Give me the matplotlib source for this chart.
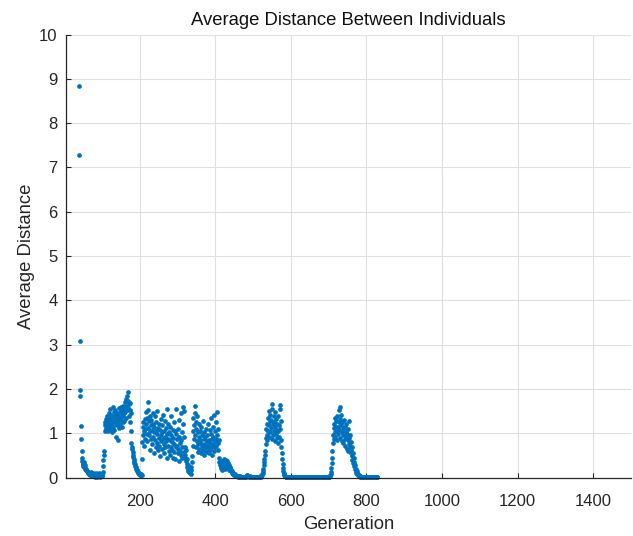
import matplotlib.pyplot as plt

plt.rcParams['font.family'] = ['Liberation Sans', 'DejaVu Sans']

first_generation = 39

# average pairwise distance, one value per generation
avg_distance = [
    8.85, 7.28, 3.08, 1.98, 1.84, 1.16, 0.86, 0.60, 0.45, 0.38, 0.34, 0.31, 0.27, 0.35, 0.24, 0.22, 0.28, 0.19, 0.20, 0.16,
    0.18, 0.14, 0.15, 0.12, 0.10, 0.13, 0.08, 0.11, 0.07, 0.10, 0.06, 0.09, 0.05, 0.12, 0.04, 0.08, 0.06, 0.03, 0.10, 0.05,
    0.07, 0.04, 0.09, 0.02, 0.06, 0.11, 0.03, 0.05, 0.08, 0.02, 0.06, 0.04, 0.10, 0.03, 0.07, 0.05, 0.02, 0.09, 0.04, 0.06,
    0.03, 0.08, 0.05, 0.12, 0.27, 0.39, 0.52, 0.61, 1.05, 1.18, 1.25, 1.12, 1.32, 1.08, 1.22, 1.40, 1.15, 1.28, 1.05, 1.35,
    1.22, 1.45, 1.10, 1.55, 1.30, 1.18, 1.42, 1.02, 1.36, 1.25, 1.60, 1.14, 1.48, 1.31, 1.08, 1.38, 1.52, 1.20, 0.92, 1.33,
    1.45, 1.18, 1.28, 0.85, 1.40, 1.24, 1.56, 1.12, 1.35, 1.48, 1.22, 1.60, 1.30, 1.15, 1.42, 1.52, 1.25, 1.38, 1.62, 1.45,
    1.28, 1.55, 1.70, 1.48, 1.35, 1.62, 1.78, 1.52, 1.85, 1.94, 1.72, 1.58, 1.65, 1.40, 1.52, 1.68, 1.25, 1.45, 1.06, 0.77,
    0.70, 0.64, 0.57, 0.50, 0.46, 0.41, 0.38, 0.34, 0.31, 0.27, 0.25, 0.22, 0.20, 0.18, 0.16, 0.14, 0.13, 0.11, 0.10, 0.09,
    0.08, 0.07, 0.06, 0.09, 0.05, 0.07, 0.06, 0.42, 0.80, 1.14, 0.95, 1.25, 1.05, 0.72, 1.32, 1.10, 0.88, 1.48, 1.20, 0.98,
    1.35, 0.82, 1.12, 1.52, 1.71, 0.95, 1.28, 1.05, 0.62, 1.40, 1.18, 0.88, 1.30, 0.75, 1.08, 1.45, 0.92, 1.22, 0.55, 1.02,
    1.15, 0.85, 1.38, 0.68, 1.05, 1.25, 0.78, 0.98, 1.50, 1.12, 0.62, 0.90, 1.20, 0.72, 1.08, 0.48, 0.95, 1.32, 0.82, 1.02,
    0.65, 1.18, 0.88, 1.42, 0.75, 0.55, 1.05, 0.92, 1.28, 0.68, 0.82, 1.12, 0.45, 0.98, 1.55, 0.72, 0.88, 1.22, 0.60, 1.02,
    0.85, 0.52, 1.15, 0.70, 0.95, 1.38, 0.62, 0.80, 1.08, 0.45, 0.90, 1.25, 0.58, 0.75, 1.05, 0.42, 0.68, 0.98, 1.55, 0.72,
    0.88, 0.55, 1.10, 0.65, 0.38, 0.92, 1.30, 0.60, 0.78, 1.45, 0.50, 0.85, 1.02, 0.45, 0.70, 1.60, 1.22, 0.58, 0.92, 1.50,
    0.68, 0.52, 0.45, 0.62, 0.38, 0.30, 0.25, 0.42, 0.20, 0.15, 0.28, 0.12, 0.18, 0.10, 0.22, 0.14, 0.08, 0.16, 0.25, 0.35,
    0.48, 0.72, 1.05, 1.35, 0.88, 1.18, 1.62, 1.45, 0.95, 1.25, 0.68, 1.10, 0.82, 1.38, 0.75, 1.02, 0.58, 0.92, 1.20, 0.65,
    0.85, 1.05, 0.55, 0.78, 1.15, 0.62, 0.95, 0.72, 1.28, 0.68, 0.88, 0.50, 1.02, 0.75, 0.60, 0.92, 1.10, 0.70, 0.82, 0.58,
    0.95, 0.72, 1.22, 0.65, 0.85, 0.55, 1.08, 0.78, 0.62, 0.98, 1.35, 0.70, 0.88, 0.52, 1.15, 0.75, 0.92, 0.60, 1.42, 0.82,
    1.05, 0.68, 0.88, 1.25, 0.72, 0.95, 1.48, 0.78, 1.10, 0.62, 0.85, 0.45, 0.35, 0.28, 0.38, 0.22, 0.32, 0.25, 0.18, 0.30,
    0.38, 0.26, 0.34, 0.42, 0.22, 0.30, 0.36, 0.20, 0.28, 0.33, 0.40, 0.24, 0.30, 0.37, 0.26, 0.32, 0.22, 0.28, 0.18, 0.24,
    0.20, 0.16, 0.18, 0.14, 0.12, 0.15, 0.10, 0.11, 0.08, 0.09, 0.07, 0.06, 0.07, 0.05, 0.05, 0.04, 0.04, 0.03, 0.04, 0.03,
    0.03, 0.03, 0.02, 0.03, 0.02, 0.02, 0.03, 0.02, 0.02, 0.01, 0.02, 0.02, 0.01, 0.02, 0.01, 0.02, 0.01, 0.01, 0.02, 0.01,
    0.02, 0.01, 0.03, 0.04, 0.05, 0.04, 0.05, 0.04, 0.03, 0.04, 0.03, 0.02, 0.03, 0.02, 0.02, 0.01, 0.02, 0.01, 0.01, 0.02,
    0.01, 0.01, 0.02, 0.01, 0.01, 0.01, 0.02, 0.01, 0.01, 0.01, 0.01, 0.02,
    0.01, 0.01, 0.02, 0.01, 0.02, 0.01, 0.02, 0.02, 0.03, 0.02, 0.03, 0.04, 0.05, 0.07, 0.10, 0.14, 0.20, 0.28, 0.35, 0.43,
    0.52, 0.60, 0.75, 0.90, 1.10, 0.95, 1.22, 0.85, 1.35, 1.05, 1.50, 0.92, 1.18, 1.28, 1.42, 1.02, 1.30, 1.12, 0.88, 1.55,
    1.66, 1.20, 0.95, 1.38, 1.05, 1.25, 0.82, 1.15, 1.48, 0.98, 1.32, 0.90, 1.08, 1.22, 0.78, 1.40, 1.05, 0.92, 1.18, 1.63,
    1.55, 1.10, 0.85, 1.28, 0.70, 0.55, 0.42, 0.30, 0.22, 0.15, 0.10, 0.07, 0.05, 0.04, 0.03, 0.02, 0.02, 0.02, 0.01, 0.02,
    0.01, 0.01, 0.02, 0.01, 0.01, 0.01, 0.01, 0.01, 0.02, 0.01, 0.01, 0.01, 0.01, 0.01, 0.01, 0.01,
    0.01, 0.01, 0.02, 0.01, 0.01, 0.01, 0.01, 0.02, 0.01, 0.01, 0.01, 0.01, 0.01, 0.02, 0.01, 0.01, 0.01, 0.01, 0.01, 0.01,
    0.01, 0.02, 0.01, 0.01, 0.01, 0.01, 0.01, 0.01, 0.02, 0.01, 0.01, 0.01, 0.01,
    0.01, 0.01, 0.01, 0.01, 0.02, 0.01, 0.01, 0.01, 0.01, 0.01, 0.01, 0.01, 0.02, 0.01, 0.01, 0.01, 0.01, 0.01, 0.01, 0.01,
    0.01, 0.01, 0.01, 0.02, 0.01, 0.01, 0.01, 0.01, 0.01, 0.01, 0.01, 0.02, 0.01, 0.01, 0.01, 0.01, 0.01, 0.01, 0.01, 0.01,
    0.01, 0.01, 0.02, 0.01, 0.01, 0.01, 0.01, 0.02, 0.01, 0.01, 0.01, 0.01, 0.01, 0.02, 0.01, 0.01, 0.02, 0.01, 0.02, 0.01,
    0.01, 0.01, 0.02, 0.03, 0.05, 0.08, 0.12, 0.22, 0.32, 0.45, 0.60, 0.78, 0.95, 1.12, 0.88, 1.20, 1.02, 1.35, 0.92, 1.15,
    1.28, 1.05, 0.85, 1.38, 1.15, 0.98, 1.25, 1.52, 1.08, 1.60, 1.32, 0.90, 1.18, 1.42, 1.02, 0.82, 1.25, 0.95, 1.12, 0.78,
    1.08, 1.30, 0.88, 1.15, 0.72, 1.02, 0.92, 1.22, 0.65, 0.98, 0.85, 1.10, 0.60, 0.90, 1.28, 0.75, 0.68, 0.95, 0.55, 0.80,
    0.62, 0.48, 0.70, 0.40, 0.55, 0.32, 0.45, 0.26, 0.35, 0.20, 0.28, 0.15, 0.20, 0.11, 0.14, 0.08, 0.10, 0.06, 0.07, 0.05,
    0.04, 0.04, 0.03, 0.03, 0.02, 0.02, 0.02, 0.01, 0.02, 0.01, 0.01, 0.01, 0.01, 0.01, 0.01, 0.01, 0.01, 0.01, 0.01, 0.01,
    0.01, 0.01, 0.01, 0.01, 0.01, 0.01, 0.01, 0.01, 0.01, 0.01, 0.01, 0.01, 0.01, 0.01, 0.01, 0.01, 0.01, 0.01, 0.01, 0.01,
    0.01, 0.01, 0.01, 0.01, 0.01, 0.01, 0.01, 0.01, 0.01, 0.01,
]
generation = list(range(first_generation, first_generation + len(avg_distance)))

x_ticks = [200, 400, 600, 800, 1000, 1200, 1400]
y_ticks = list(range(0, 11))

text_color = '#262626'
grid_color = '#dfdfdf'

fig = plt.figure(figsize=(6.33, 5.36), dpi=100)
ax = fig.add_axes([0.1043, 0.109, 0.8926, 0.8265])

ax.plot(generation, avg_distance, linestyle='none', marker='o',
        markersize=3.4, markeredgewidth=0, color='#0072BD', clip_on=False)

ax.set_xlim(5, 1500)
ax.set_ylim(0, 10)
ax.set_xticks(x_ticks)
ax.set_yticks(y_ticks)
ax.grid(True, color=grid_color, linewidth=0.8)
ax.set_axisbelow(True)

for side in ('top', 'right'):
    ax.spines[side].set_visible(False)
for side in ('left', 'bottom'):
    ax.spines[side].set_color(text_color)
    ax.spines[side].set_linewidth(0.9)

ax.tick_params(direction='in', length=3.5, width=0.8, colors=text_color,
               labelsize=12, pad=6)
ax.tick_params(axis='x', pad=12)

ax.set_xlabel('Generation', fontsize=13.3, color=text_color, labelpad=5)
ax.set_ylabel('Average Distance', fontsize=13.3, color=text_color, labelpad=3)
ax.set_title('Average Distance Between Individuals', fontsize=13.3,
             color='#111111', pad=7)

fig.savefig('out.png', dpi=100)
